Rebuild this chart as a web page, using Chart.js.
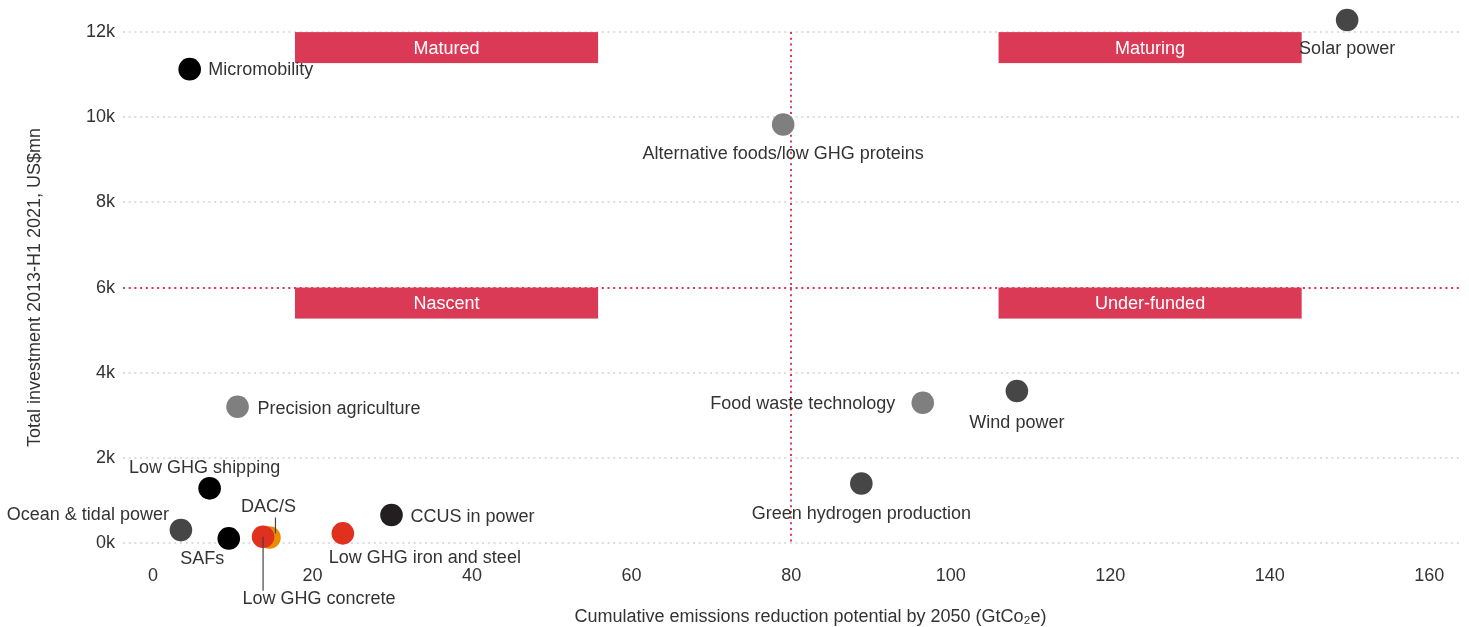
<!DOCTYPE html>
<html>
<head>
<meta charset="utf-8">
<script src="https://cdn.jsdelivr.net/npm/chart.js@4.4.1/dist/chart.umd.min.js"></script>
<style>
  html, body { margin: 0; padding: 0; background: #ffffff; }
  canvas { display: block; }
</style>
</head>
<body>
<canvas id="chart" width="1469" height="627"></canvas>
<script>
// ---------- DATA ----------
const technologies = [
  "Solar power", "Micromobility", "Alternative foods/low GHG proteins",
  "Precision agriculture", "Food waste technology", "Wind power",
  "Green hydrogen production", "Low GHG shipping", "Ocean & tidal power",
  "SAFs", "DAC/S", "Low GHG concrete", "Low GHG iron and steel", "CCUS in power"
];
// Cumulative emissions reduction potential by 2050 (GtCO2e)
const emissionsReduction = [149.7, 4.6, 79.0, 10.6, 96.5, 108.3, 88.8, 7.1, 3.5, 9.5, 14.6, 13.8, 23.8, 29.9];
// Total investment 2013-H1 2021 (US$mn)
const totalInvestment = [12283, 11130, 9830, 3200, 3295, 3570, 1400, 1285, 305, 110, 130, 150, 228, 658];

const xTicks = [0, 20, 40, 60, 80, 100, 120, 140, 160];
const xTickLabels = ["0", "20", "40", "60", "80", "100", "120", "140", "160"];
const yTicks = [0, 2000, 4000, 6000, 8000, 10000, 12000];
const yTickLabels = ["0k", "2k", "4k", "6k", "8k", "10k", "12k"];

// Quadrant threshold values
const thresholdX = 80;
const thresholdY = 6000;

// Quadrant labels and their extents (data units)
const quadrantNames = ["Matured", "Maturing", "Nascent", "Under-funded"];
const quadrantX0 = [17.8, 106, 17.8, 106];
const quadrantX1 = [55.8, 144, 55.8, 144];
const quadrantY0 = [11272, 11272, 5272, 5272];
const quadrantY1 = [12000, 12000, 6000, 6000];

const xTitle = "Cumulative emissions reduction potential by 2050 (GtCo\u2082e)";
const yTitle = "Total investment 2013-H1 2021, US$mn";

// ---------- STYLE ----------
const FONT = '"Liberation Sans", Arial, Helvetica, sans-serif';
const TEXT = '#333333';
const ROSE = '#da3a56';
const pointColors = [
  '#464646', '#000000', '#7f7f7f', '#7f7f7f', '#7f7f7f', '#464646',
  '#464646', '#000000', '#464646', '#000000', '#eb8c00', '#e0301e', '#e0301e', '#231f20'
];
// label placement relative to point centre (pixels)
const labelPlacement = [
  { align: 'center', dx: 0, dy: 28 },
  { align: 'left', dx: 18.5, dy: 0 },
  { align: 'center', dx: 0, dy: 29 },
  { align: 'left', dx: 20, dy: 1 },
  { align: 'right', dx: -27.5, dy: 0 },
  { align: 'center', dx: 0, dy: 30.5 },
  { align: 'center', dx: 0, dy: 29.5 },
  { align: 'center', dx: -5, dy: -21.6 },
  { align: 'right', dx: -12, dy: -16 },
  { align: 'center', dx: -26.6, dy: 20 },
  { align: 'center', dx: -1, dy: -32, leader: { dx: 6, y0: -20, y1: -4 } },
  { align: 'center', dx: 56, dy: 61.5, leader: { dx: 0, y0: 0, y1: 54 } },
  { align: 'center', dx: 82, dy: 24 },
  { align: 'left', dx: 19, dy: 1 }
];
const TEXT_SHIFT = 1; // canvas 'middle' baseline sits slightly high

// ---------- PLUGINS ----------
const quadrantPlugin = {
  id: 'quadrants',
  beforeDatasetsDraw(chart) {
    const { ctx, chartArea, scales: { x, y } } = chart;
    ctx.save();
    for (let i = 0; i < quadrantNames.length; i++) {
      const x0 = x.getPixelForValue(quadrantX0[i]);
      const x1 = x.getPixelForValue(quadrantX1[i]);
      const y0 = y.getPixelForValue(quadrantY1[i]);
      const y1 = y.getPixelForValue(quadrantY0[i]);
      ctx.fillStyle = ROSE;
      ctx.fillRect(x0, y0, x1 - x0, y1 - y0);
      ctx.fillStyle = '#ffffff';
      ctx.font = '18px ' + FONT;
      ctx.textAlign = 'center';
      ctx.textBaseline = 'middle';
      ctx.fillText(quadrantNames[i], (x0 + x1) / 2, (y0 + y1) / 2 + 1);
    }
    ctx.strokeStyle = ROSE;
    ctx.lineWidth = 2;
    ctx.setLineDash([2, 3.7]);
    const ty = Math.round(y.getPixelForValue(thresholdY));
    ctx.beginPath();
    ctx.moveTo(chartArea.left, ty);
    ctx.lineTo(chartArea.right, ty);
    ctx.stroke();
    const tx = Math.round(x.getPixelForValue(thresholdX));
    ctx.beginPath();
    ctx.moveTo(tx, y.getPixelForValue(12000));
    ctx.lineTo(tx, y.getPixelForValue(0));
    ctx.stroke();
    ctx.restore();
  },
  afterDatasetsDraw(chart) {
    const { ctx, chartArea, scales: { x, y } } = chart;
    ctx.save();
    ctx.font = '18px ' + FONT;
    ctx.fillStyle = TEXT;
    ctx.textBaseline = 'middle';
    for (let i = 0; i < technologies.length; i++) {
      const px = x.getPixelForValue(emissionsReduction[i]);
      const py = y.getPixelForValue(totalInvestment[i]);
      const p = labelPlacement[i];
      if (p.leader) {
        ctx.strokeStyle = '#444444';
        ctx.lineWidth = 1.2;
        ctx.beginPath();
        ctx.moveTo(px + p.leader.dx, py + p.leader.y0);
        ctx.lineTo(px + p.leader.dx, py + p.leader.y1);
        ctx.stroke();
      }
      ctx.textAlign = p.align;
      ctx.fillText(technologies[i], px + p.dx, py + p.dy + TEXT_SHIFT);
    }
    ctx.textAlign = 'center';
    ctx.fillText(xTitle, (chartArea.left + chartArea.right) / 2 + 18, 617);
    ctx.translate(35, 287.5);
    ctx.rotate(-Math.PI / 2);
    ctx.fillText(yTitle, 0, 0);
    ctx.restore();
  }
};

// ---------- CHART ----------
new Chart(document.getElementById('chart'), {
  type: 'scatter',
  data: {
    datasets: [{
      data: technologies.map((t, i) => ({ x: emissionsReduction[i], y: totalInvestment[i] })),
      backgroundColor: pointColors,
      borderWidth: 0,
      pointRadius: 11.3,
      pointHoverRadius: 11.3,
      clip: false
    }]
  },
  options: {
    responsive: false,
    animation: false,
    devicePixelRatio: 1,
    layout: { autoPadding: false, padding: { top: 4, right: 7, left: 0, bottom: 0 } },
    plugins: { legend: { display: false }, tooltip: { enabled: false } },
    scales: {
      x: {
        type: 'linear',
        min: -3.76,
        max: 164.1,
        grid: { display: false, drawTicks: false },
        border: { display: false },
        afterBuildTicks: (s) => { s.ticks = xTicks.map(v => ({ value: v })); },
        afterFit: (s) => { s.height = 72; s.paddingLeft = 0; s.paddingRight = 0; },
        ticks: {
          padding: 10,
          color: TEXT,
          font: { size: 18, family: FONT },
          maxRotation: 0,
          callback: (v, i) => xTickLabels[i]
        }
      },
      y: {
        type: 'linear',
        min: -280,
        max: 12660,
        grid: { color: '#dddddd', lineWidth: 2, drawTicks: false },
        border: { display: false, dash: [2, 3.7] },
        afterBuildTicks: (s) => { s.ticks = yTicks.map(v => ({ value: v })); },
        afterFit: (s) => { s.width = 123; s.paddingTop = 0; s.paddingBottom = 0; },
        ticks: {
          padding: 8,
          color: TEXT,
          font: { size: 18, family: FONT },
          callback: (v, i) => yTickLabels[i]
        }
      }
    }
  },
  plugins: [quadrantPlugin]
});
</script>
</body>
</html>
